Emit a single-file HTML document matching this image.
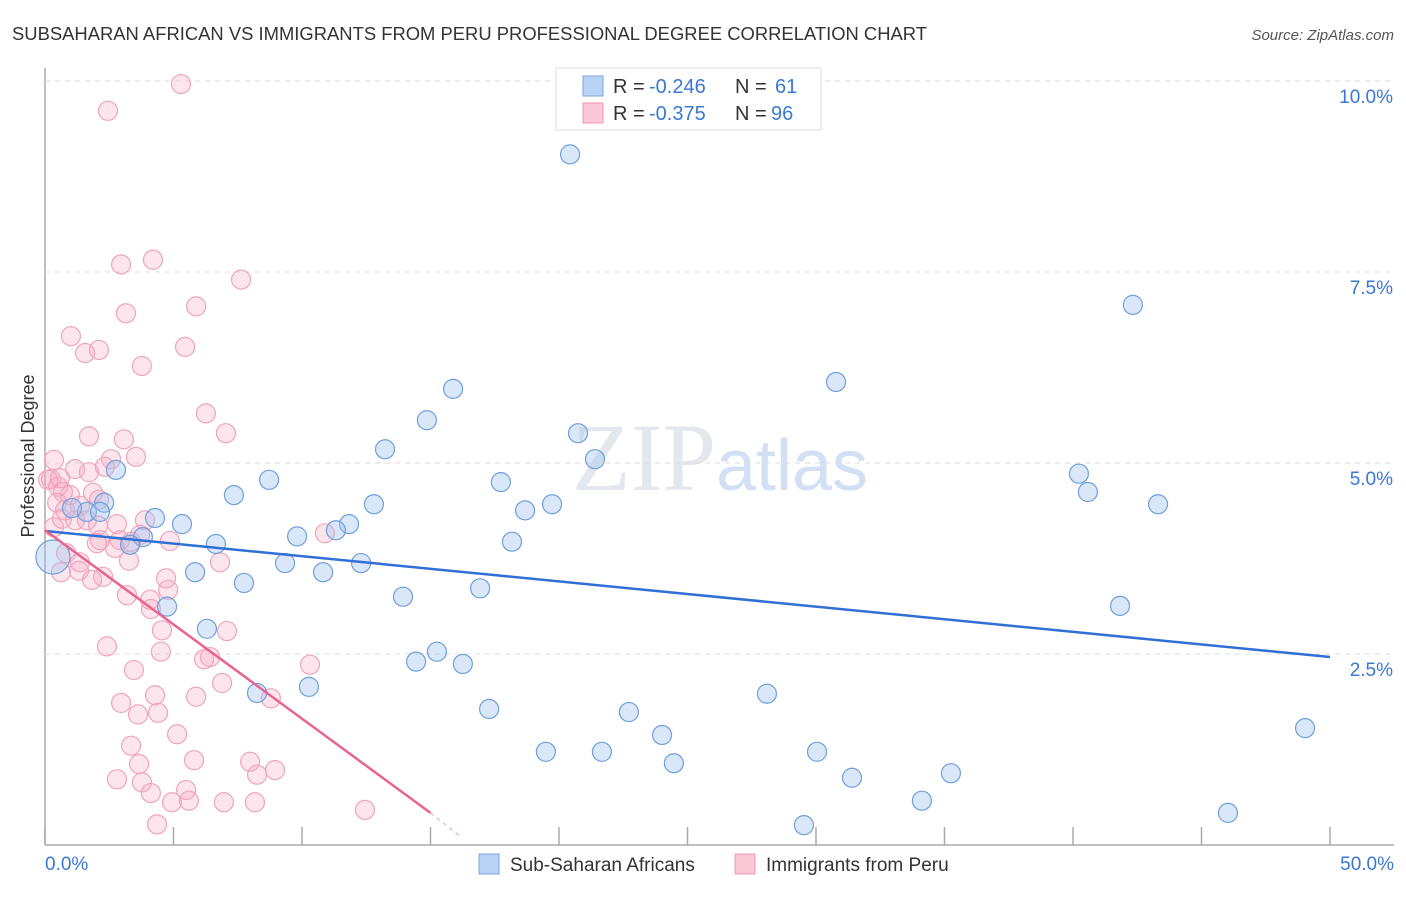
<!DOCTYPE html>
<html><head><meta charset="utf-8"><style>
body{margin:0;background:#fff;font-family:"Liberation Sans",sans-serif}
</style></head><body>
<svg width="1406" height="892" xmlns="http://www.w3.org/2000/svg" id="chart">
<text x="12" y="40" font-size="18" fill="#333" textLength="915" lengthAdjust="spacingAndGlyphs">SUBSAHARAN AFRICAN VS IMMIGRANTS FROM PERU PROFESSIONAL DEGREE CORRELATION CHART</text>
<text x="1394" y="40" font-size="15" fill="#555" font-style="italic" text-anchor="end">Source: ZipAtlas.com</text>
<text x="720" y="490" font-size="96" fill="#e3e7ee" text-anchor="middle" font-family="Liberation Serif">ZIP<tspan fill="#d3e0f3" font-family="Liberation Sans" font-size="72">atlas</tspan></text>
<text transform="translate(34,456) rotate(-90)" font-size="18" fill="#333" text-anchor="middle">Professional Degree</text>
<g id="grid"></g><g id="marks"></g><g id="lines"></g>
<g>
<rect x="556" y="68" width="265" height="62" fill="#fff" stroke="#ddd"/>
<rect x="583" y="76" width="20" height="20" fill="#b9d3f5" stroke="#7aa6e0"/>
<rect x="583" y="103" width="20" height="20" fill="#fcc8d8" stroke="#ef94b1"/>
<text x="613" y="93" font-size="20" fill="#333">R =</text>
<text x="649" y="93" font-size="20" fill="#3a78d4">-0.246</text>
<text x="735" y="93" font-size="20" fill="#333">N =</text>
<text x="775" y="93" font-size="20" fill="#3a78d4">61</text>
<text x="613" y="120" font-size="20" fill="#333">R =</text>
<text x="649" y="120" font-size="20" fill="#3a78d4">-0.375</text>
<text x="735" y="120" font-size="20" fill="#333">N =</text>
<text x="771" y="120" font-size="20" fill="#3a78d4">96</text>
</g>
<g>
<rect x="479" y="854" width="20" height="20" fill="#b9d3f5" stroke="#7aa6e0"/>
<text x="510" y="871" font-size="19" fill="#333">Sub-Saharan Africans</text>
<rect x="735" y="854" width="20" height="20" fill="#fcc8d8" stroke="#ef94b1"/>
<text x="766" y="871" font-size="19" fill="#333">Immigrants from Peru</text>
</g>
</svg>
<script>
const xTicks=[0,5,10,15,20,25,30,35,40,45,50];
const yTicks=[2.5,5,7.5,10];
const yTickLabels=["2.5%","5.0%","7.5%","10.0%"];
function troX(p){return +((p-45)/25.7).toFixed(2);}
function troY(p){return +((845-p)/76.4).toFixed(2);}
const blueX=[570,1133,836,453,427,578,385,595,1079,269,501,1088,234,374,552,525,1158,104,87,72,155,182,349,336,297,143,512,216,130,285,361,195,323,244,480,403,1120,167,207,437,416,463,309,257,767,489,629,1305,662,546,602,817,674,852,951,922,804,1228,116,53,100].map(troX);
const blueY=[154,305,382,389,420,433,449,459,474,480,482,492,495,504,504,510,504,503,512,508,518,524,524,530,536,537,542,544,545,563,563,572,572,583,588,597,606,607,629,652,662,664,687,693,694,709,712,728,735,752,752,752,763,778,773,801,825,813,470,557,512].map(troY);
const pinkPx=[[181,84],[108,111],[153,260],[121,264],[241,280],[196,306],[126,313],[71,336],[185,347],[99,350],[85,353],[142,366],[206,413],[226,433],[89,436],[124,439],[54,460],[136,457],[111,459],[75,469],[105,467],[89,472],[51,479],[58,487],[63,492],[70,495],[93,493],[99,500],[80,506],[57,503],[54,527],[62,519],[75,520],[98,526],[145,520],[117,524],[97,543],[131,542],[170,541],[115,548],[66,553],[61,572],[79,571],[80,562],[103,577],[92,580],[129,561],[166,578],[168,590],[220,562],[325,533],[127,595],[151,609],[162,630],[227,631],[107,646],[161,652],[204,659],[210,657],[310,665],[134,670],[222,683],[196,697],[271,698],[121,703],[155,695],[138,714],[158,713],[177,734],[131,746],[194,760],[250,762],[275,770],[139,764],[117,779],[142,782],[257,775],[186,790],[151,793],[172,802],[189,801],[224,802],[255,802],[157,824],[365,810],[48,480],[60,478],[65,510],[87,520],[120,540],[140,535],[150,600],[100,540]];
const pinkX=pinkPx.map(p=>troX(p[0]));
const pinkY=pinkPx.map(p=>troY(p[1]));
const blueTrend=[[0,4.11],[50,2.46]];
const pinkTrend=[[0,4.12],[15,0.42]];
const pinkDash=[[15,0.42],[16.1,0.13]];
const X0=45,X1=1330,Y0=845,Y1=81;
function sx(v){return X0+(X1-X0)*v/50;}
function sy(v){return Y0-(Y0-Y1)*v/10;}
const NS="http://www.w3.org/2000/svg";
function mk(t,a,parent){const e=document.createElementNS(NS,t);for(const k in a)e.setAttribute(k,a[k]);document.getElementById(parent).appendChild(e);return e;}
const ax=mk('line',{x1:X0,y1:68,x2:X0,y2:Y0,stroke:'#aaa','stroke-width':1.5},'grid');


const bx=mk('line',{x1:X0,y1:Y0,x2:1394,y2:Y0,stroke:'#aaa','stroke-width':1.5},'grid');


yTicks.forEach((v,i)=>{
 const g=mk('line',{x1:X0,y1:sy(v),x2:1394,y2:sy(v),stroke:'#ddd','stroke-dasharray':'5,5'},'grid');
 
 
 const t=mk('text',{x:1393,y:sy(v)+22,'font-size':19,fill:'#3a78d4','text-anchor':'end'},'grid');
 t.textContent=yTickLabels[i];
 
 
});
xTicks.forEach(v=>{
 const l=mk('line',{x1:sx(v),y1:Y0,x2:sx(v),y2:Y0-18,stroke:'#aaa','stroke-width':1.5},'grid');
 
 
});
[[0,"0.0%","start",45],[50,"50.0%","end",1394]].forEach(d=>{
 const t=mk('text',{x:d[3],y:870,'font-size':19,fill:'#3a78d4','text-anchor':d[2]},'grid');
 t.textContent=d[1];
 
 
});
pinkX.forEach((v,i)=>{
 const c=mk('circle',{cx:sx(v),cy:sy(pinkY[i]),r:9.5,fill:'rgba(248,170,195,0.3)',stroke:'#f0a4bc','stroke-width':1.2},'marks');
 
 
});
blueX.forEach((v,i)=>{
 const c=mk('circle',{cx:sx(v),cy:sy(blueY[i]),r:(i==59?17:9.5),fill:'rgba(160,196,240,0.4)',stroke:'#6f9fdc','stroke-width':1.2},'marks');
 
 
});
function line(p,col,name,dash){const l=mk('line',{x1:sx(p[0][0]),y1:sy(p[0][1]),x2:sx(p[1][0]),y2:sy(p[1][1]),stroke:col,'stroke-width':dash?1:2.5},'lines');if(dash)l.setAttribute('stroke-dasharray','4,4');
 
 }
line(blueTrend,'#2f6fd6','subsaharan-trend-line');
line(pinkTrend,'#e8638f','peru-trend-line');
line(pinkDash,'#e8a0b8','peru-trend-extension',true);
</script>
</body></html>
